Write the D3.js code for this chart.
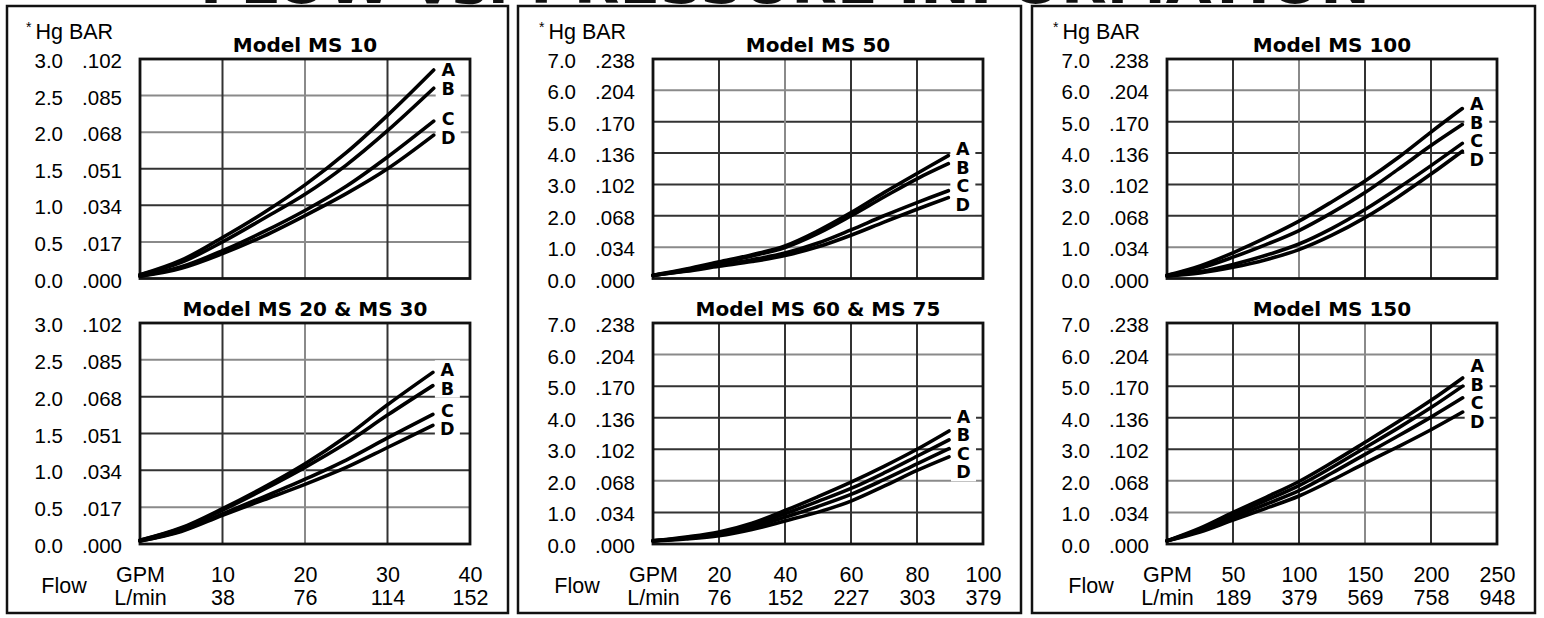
<!DOCTYPE html>
<html><head><meta charset="utf-8">
<script src="https://cdn.jsdelivr.net/npm/d3@7/dist/d3.min.js"></script>
<style>body{margin:0;background:#fff}svg{display:block}</style>
</head><body>
<svg id="c" width="1544" height="618"></svg>
<script>
// ---------- data ----------
const seriesNames = ["A","B","C","D"];
const inHgTicksLow = [0,0.5,1,1.5,2,2.5,3];
const barLabelsLow = [".000",".017",".034",".051",".068",".085",".102"];
const inHgTicksHigh = [0,1,2,3,4,5,6,7];
const barLabelsHigh = [".000",".034",".068",".102",".136",".170",".204",".238"];
const gpmTicks10 = [10,20,30,40];       const lpmLabels10 = ["38","76","114","152"];
const gpmTicks50 = [20,40,60,80,100];   const lpmLabels50 = ["76","152","227","303","379"];
const gpmTicks100 = [50,100,150,200,250]; const lpmLabels100 = ["189","379","569","758","948"];

const ms10Flow = [0,5,10,15,20,25,30,35.6];
const ms10A = [0.05,0.25,0.56,0.90,1.28,1.72,2.23,2.85];
const ms10B = [0.05,0.22,0.50,0.82,1.15,1.55,2.02,2.60];
const ms10C = [0.03,0.16,0.38,0.64,0.93,1.26,1.66,2.15];
const ms10D = [0.03,0.14,0.34,0.58,0.86,1.16,1.50,1.96];

const ms20Flow = [0,5,10,15,20,25,30,35.5];
const ms20A = [0.05,0.22,0.48,0.77,1.09,1.46,1.89,2.33];
const ms20B = [0.05,0.21,0.46,0.74,1.04,1.37,1.75,2.15];
const ms20C = [0.04,0.18,0.41,0.64,0.88,1.14,1.44,1.76];
const ms20D = [0.04,0.17,0.39,0.60,0.81,1.04,1.31,1.61];

const ms50Flow = [0,10,20,30,40,50,60,70,80,89.5];
const ms50A = [0.10,0.30,0.53,0.76,1.04,1.52,2.10,2.74,3.35,3.92];
const ms50B = [0.10,0.28,0.50,0.72,0.99,1.44,2.00,2.60,3.18,3.66];
const ms50C = [0.10,0.25,0.43,0.60,0.81,1.13,1.55,2.00,2.42,2.80];
const ms50D = [0.10,0.23,0.39,0.54,0.73,1.01,1.38,1.80,2.21,2.58];

const ms60Flow = [0,10,20,30,40,50,60,70,80,89.7];
const ms60A = [0.10,0.22,0.38,0.66,1.06,1.50,1.96,2.46,3.00,3.58];
const ms60B = [0.10,0.20,0.34,0.60,0.96,1.35,1.76,2.25,2.78,3.30];
const ms60C = [0.10,0.18,0.30,0.53,0.85,1.19,1.57,2.04,2.54,3.02];
const ms60D = [0.10,0.16,0.26,0.46,0.73,1.01,1.36,1.83,2.33,2.76];

const ms100Flow = [0,25,50,75,100,125,150,175,200,223.7];
const ms100A = [0.10,0.40,0.82,1.30,1.83,2.45,3.11,3.85,4.67,5.42];
const ms100B = [0.10,0.33,0.68,1.08,1.53,2.10,2.74,3.48,4.24,4.91];
const ms100C = [0.08,0.22,0.45,0.74,1.10,1.60,2.20,2.88,3.60,4.31];
const ms100D = [0.08,0.18,0.36,0.60,0.92,1.38,1.94,2.60,3.33,4.06];

const ms150Flow = [0,25,50,75,100,125,150,175,200,224];
const ms150A = [0.10,0.50,1.00,1.48,1.98,2.58,3.22,3.87,4.55,5.26];
const ms150B = [0.10,0.46,0.92,1.38,1.85,2.43,3.05,3.67,4.32,5.00];
const ms150C = [0.10,0.42,0.84,1.26,1.69,2.25,2.84,3.42,4.02,4.63];
const ms150D = [0.10,0.38,0.76,1.13,1.52,2.02,2.56,3.08,3.62,4.18];

const banner = "FLOW vs. PRESSURE INFORMATION";

// ---------- chart table ----------
const charts = [
  {col:0,row:0,title:"Model MS 10",xTicks:gpmTicks10,lpm:lpmLabels10,yTicks:inHgTicksLow,bar:barLabelsLow,flow:ms10Flow,vals:[ms10A,ms10B,ms10C,ms10D],grayY:[2.5,2,0.5],grayX:[20]},
  {col:0,row:1,title:"Model MS 20 & MS 30",xTicks:gpmTicks10,lpm:lpmLabels10,yTicks:inHgTicksLow,bar:barLabelsLow,flow:ms20Flow,vals:[ms20A,ms20B,ms20C,ms20D],grayY:[2.5,0.5],grayX:[20]},
  {col:1,row:0,title:"Model MS 50",xTicks:gpmTicks50,lpm:lpmLabels50,yTicks:inHgTicksHigh,bar:barLabelsHigh,flow:ms50Flow,vals:[ms50A,ms50B,ms50C,ms50D],grayY:[6,1],grayX:[40]},
  {col:1,row:1,title:"Model MS 60 & MS 75",xTicks:gpmTicks50,lpm:lpmLabels50,yTicks:inHgTicksHigh,bar:barLabelsHigh,flow:ms60Flow,vals:[ms60A,ms60B,ms60C,ms60D],grayY:[6,2],grayX:[]},
  {col:2,row:0,title:"Model MS 100",xTicks:gpmTicks100,lpm:lpmLabels100,yTicks:inHgTicksHigh,bar:barLabelsHigh,flow:ms100Flow,vals:[ms100A,ms100B,ms100C,ms100D],grayY:[6,1],grayX:[100]},
  {col:2,row:1,title:"Model MS 150",xTicks:gpmTicks100,lpm:lpmLabels100,yTicks:inHgTicksHigh,bar:barLabelsHigh,flow:ms150Flow,vals:[ms150A,ms150B,ms150C,ms150D],grayY:[6,2,1],grayX:[150]}
];

// ---------- layout ----------
const svg = d3.select("#c");
const panelX = [7,518,1032], panelW = [501,503,503], panelY = 6, panelH = 607;
const plotLeft = [140,653,1167], plotW = 330;
const rowTop = [59,323], plotH = [219.5,221];
const tickFont = "'Liberation Sans', Arial, sans-serif";
const boldFont = "'DejaVu Sans', sans-serif";

svg.append("rect").attr("width",1544).attr("height",618).attr("fill","#fff");

// banner, cut off at the top edge as in the reference
svg.append("text").attr("x",200).attr("y",2.5)
  .attr("textLength",1170).attr("lengthAdjust","spacingAndGlyphs")
  .attr("font-family",boldFont).attr("font-weight","bold").attr("font-size",54)
  .attr("fill","#111").text(banner);

panelX.forEach((px,i)=>{
  svg.append("rect").attr("x",px).attr("y",panelY).attr("width",panelW[i]).attr("height",panelH)
    .attr("fill","#fff").attr("stroke","#111").attr("stroke-width",2.5);
});

function spread(ys, gap){
  const p = ys.slice();
  for(let it=0; it<200; it++){
    let moved=false;
    for(let i=0;i<p.length-1;i++){
      const d=p[i+1]-p[i];
      if(d<gap-0.01){const s=(gap-d)/2;p[i]-=s;p[i+1]+=s;moved=true;}
    }
    if(!moved)break;
  }
  return p;
}

charts.forEach(ch=>{
  const left = plotLeft[ch.col], top = rowTop[ch.row], h = plotH[ch.row];
  const xMax = ch.xTicks[ch.xTicks.length-1], yMax = ch.yTicks[ch.yTicks.length-1];
  const x = d3.scaleLinear().domain([0,xMax]).range([left,left+plotW]);
  const y = d3.scaleLinear().domain([0,yMax]).range([top+h,top]);
  const g = svg.append("g");

  // grid
  ch.yTicks.filter(v=>v>0&&v<yMax).forEach(v=>{
    g.append("line").attr("x1",x(0)).attr("x2",x(xMax)).attr("y1",y(v)).attr("y2",y(v))
      .attr("stroke",ch.grayY.includes(v)?"#8a8a8a":"#333").attr("stroke-width",2);
  });
  ch.xTicks.filter(v=>v<xMax).forEach(v=>{
    g.append("line").attr("x1",x(v)).attr("x2",x(v)).attr("y1",y(0)).attr("y2",y(yMax))
      .attr("stroke",ch.grayX.includes(v)?"#8a8a8a":"#333").attr("stroke-width",2);
  });

  // series label positions
  const endX = x(ch.flow[ch.flow.length-1]);
  const endYs = ch.vals.map(s=>y(s[s.length-1]));
  const labYs = spread(endYs,18.5);
  labYs.forEach(ly=>{
    g.append("rect").attr("x",endX+2).attr("y",ly-9.5).attr("width",25).attr("height",19).attr("fill","#fff");
  });

  // plot frame
  g.append("rect").attr("x",x(0)).attr("y",y(yMax)).attr("width",plotW).attr("height",h)
    .attr("fill","none").attr("stroke","#111").attr("stroke-width",2.8);

  // curves
  const line = d3.line().x(d=>x(d[0])).y(d=>y(d[1])).curve(d3.curveCatmullRom.alpha(0.5));
  ch.vals.forEach(s=>{
    g.append("path").datum(ch.flow.map((f,i)=>[f,s[i]])).attr("d",line)
      .attr("fill","none").attr("stroke","#000").attr("stroke-width",3.6).attr("stroke-linecap","round");
  });

  labYs.forEach((ly,i)=>{
    g.append("text").attr("x",endX+14.5).attr("y",ly).attr("dy","0.36em").attr("text-anchor","middle")
      .attr("font-family",boldFont).attr("font-weight","bold").attr("font-size",17.5).attr("fill","#000")
      .text(seriesNames[i]);
  });

  // title
  g.append("text").attr("x",left+plotW/2).attr("y",top-7).attr("text-anchor","middle")
    .attr("font-family",boldFont).attr("font-weight","bold").attr("font-size",20).attr("fill","#000")
    .text(ch.title);

  // y tick label columns via axes
  const ax1 = g.append("g").attr("transform",`translate(${left-77},2)`)
    .call(d3.axisLeft(y).tickValues(ch.yTicks).tickSize(0).tickPadding(0).tickFormat(d3.format(".1f")));
  const ax2 = g.append("g").attr("transform",`translate(${left-18},2)`)
    .call(d3.axisLeft(y).tickValues(ch.yTicks).tickSize(0).tickPadding(0).tickFormat((d,i)=>ch.bar[i]));
  [ax1,ax2].forEach(a=>{
    a.select(".domain").remove();
    a.selectAll("text").attr("font-family",tickFont).attr("font-size",20.5).attr("fill","#000");
  });

  if(ch.row===0){
    const t = g.append("text").attr("x",left-114).attr("y",39)
      .attr("font-family",tickFont).attr("fill","#000");
    t.append("tspan").attr("font-size",14).attr("dy",-7).text("*");
    t.append("tspan").attr("font-size",21.5).attr("dx",4).attr("dy",7).text("Hg BAR");
  } else {
    const gv = [0].concat(ch.xTicks);
    const axG = g.append("g").attr("transform",`translate(0,${566.5})`)
      .call(d3.axisBottom(x).tickValues(gv).tickSize(0).tickPadding(0).tickFormat((d,i)=>i===0?"GPM":String(d)));
    const axL = g.append("g").attr("transform",`translate(0,${590})`)
      .call(d3.axisBottom(x).tickValues(gv).tickSize(0).tickPadding(0).tickFormat((d,i)=>i===0?"L/min":ch.lpm[i-1]));
    [axG,axL].forEach(a=>{
      a.select(".domain").remove();
      a.selectAll("text").attr("font-family",tickFont).attr("font-size",21.5).attr("fill","#000");
    });
    g.append("text").attr("x",left-76).attr("y",593).attr("text-anchor","middle")
      .attr("font-family",tickFont).attr("font-size",21.5).attr("fill","#000").text("Flow");
  }
});
</script>
</body></html>
